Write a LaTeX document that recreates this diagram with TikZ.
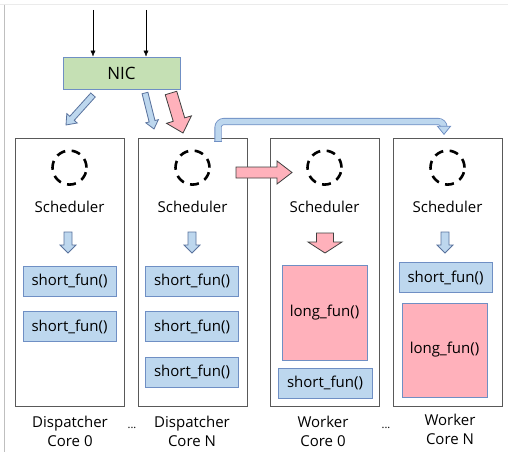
\documentclass[tikz,border=0pt]{standalone}
\usepackage{fontspec}
\setmainfont{Open Sans}
\usetikzlibrary{calc,arrows.meta}

\definecolor{nicgreen}{HTML}{C5E0B4}
\definecolor{funblue}{HTML}{BDD7EE}
\definecolor{lineblue}{HTML}{6F8FC4}
\definecolor{funred}{HTML}{FFB1BB}
\definecolor{coreline}{HTML}{595959}

% block arrow: [style]{tail}{tip}{shaft half width}{head half width}{head length}
\newcommand{\blockarrow}[6][]{%
  \coordinate (ba-h) at ($(#3)!#6!(#2)$);
  \draw[#1] ($(#2)!#4!90:(#3)$) -- ($(ba-h)!#4!90:(#3)$) -- ($(ba-h)!#5!90:(#3)$)
    -- (#3) -- ($(ba-h)!#5!-90:(#3)$) -- ($(ba-h)!#4!-90:(#3)$) -- ($(#2)!#4!-90:(#3)$) -- cycle;
}

\tikzset{
  core/.style={draw=coreline, line width=0.8pt, fill=white, minimum width=109pt, minimum height=268pt, inner sep=0pt},
  shortfun/.style={draw=lineblue, fill=funblue, line width=0.8pt, minimum width=93pt, minimum height=30pt, inner sep=0pt},
  longfun/.style={draw=lineblue, fill=funred, line width=0.8pt, minimum width=85pt, minimum height=95pt, inner sep=0pt},
  sched/.style={circle, draw=black, line width=2.6pt, dash pattern=on 9pt off 6.5pt, minimum size=34pt, inner sep=0pt},
  bluearrow/.style={draw=lineblue!80!black, fill=funblue, line width=0.8pt},
  redarrow/.style={draw=black!75, fill=funred, line width=0.8pt},
  caption/.style={align=center, font=\fontsize{15}{19}\selectfont},
}

\begin{document}
\begin{tikzpicture}[x=1pt, y=-1pt, every node/.append style={font=\fontsize{15}{18}\selectfont}]
\useasboundingbox (0,0) rectangle (508,452);

% faint frame of the screenshot
\draw[black!8, line width=0.8pt] (0,4) -- (508,4);
\draw[black!25, line width=0.8pt] (4,5) -- (4,452);

% NIC and its inputs
\node[draw=lineblue, fill=nicgreen, line width=0.8pt, minimum width=117pt, minimum height=32pt, font=\fontsize{17}{20}\selectfont] (nic) at (121.5,73) {NIC};
\coordinate (in0) at (93,10);
\coordinate (in1) at (146,10);
\draw[-{Latex[length=6pt,width=5pt]}] (in0) -- (in0 |- nic.north);
\draw[-{Latex[length=6pt,width=5pt]}] (in1) -- (in1 |- nic.north);

% cores
\node[core] (disp0) at (69.5,272) {};
\node[core] (dispN) at (192.5,272) {};
\node[core] (work0) at (324.5,272) {};
\node[core] (workN) at (447.5,272) {};

\foreach \c in {disp0,dispN,work0,workN} {
  \node[sched] (\c-sched) at ($(\c.north)+(0,30)$) {};
  \node (\c-label) at ($(\c.north)+(0,69)$) {Scheduler};
}

% functions
\node[shortfun] (d0f1) at (69.5,281) {short\_fun()};
\node[shortfun] (d0f2) at (69.5,326.5) {short\_fun()};

\node[shortfun] (dNf1) at (192,281) {short\_fun()};
\node[shortfun] (dNf2) at (192,326.5) {short\_fun()};
\node[shortfun] (dNf3) at (192,372) {short\_fun()};

\node[longfun] (w0f1) at (324.5,312.5) {long\_fun()};
\node[shortfun, minimum width=94pt] (w0f2) at (325,383) {short\_fun()};

\node[shortfun] (wNf1) at (445.5,277.5) {short\_fun()};
\node[longfun, minimum height=94pt] (wNf2) at (444.5,350) {long\_fun()};

% arrows from the schedulers
\coordinate (d0a) at (68,232);  \coordinate (d0b) at (68,253);
\coordinate (dNa) at (192,232); \coordinate (dNb) at (192,253);
\coordinate (wNa) at (445,232); \coordinate (wNb) at (445,253);
\coordinate (w0a) at (325,233); \coordinate (w0b) at (325,253);
\blockarrow[bluearrow]{d0a}{d0b}{4pt}{8pt}{8pt}
\blockarrow[bluearrow]{dNa}{dNb}{4pt}{8pt}{8pt}
\blockarrow[bluearrow]{wNa}{wNb}{4pt}{8pt}{8pt}
\blockarrow[redarrow]{w0a}{w0b}{8.5pt}{17pt}{11pt}

% arrows from the NIC
\coordinate (n0a) at (93,95);   \coordinate (n0b) at (66,125);
\coordinate (n1a) at (145,93);  \coordinate (n1b) at (154,129);
\coordinate (n2a) at (171,93);  \coordinate (n2b) at (183,133);
\blockarrow[bluearrow]{n0a}{n0b}{3pt}{7pt}{9pt}
\blockarrow[bluearrow]{n1a}{n1b}{3pt}{6.5pt}{8pt}
\blockarrow[redarrow]{n2a}{n2b}{6pt}{13pt}{14pt}

% dispatcher N hands work to the workers
\coordinate (hA) at (236,172.5); \coordinate (hB) at (292,172.5);
\blockarrow[redarrow]{hA}{hB}{5.5pt}{11.5pt}{15pt}

\coordinate (e0) at ($(dispN.north)+(25.5,4)$);
\coordinate (e1) at ($(workN-sched.north)+(-3.5,-23)$);
\draw[draw=lineblue, double=funblue, double distance=5.5pt, line width=0.8pt, rounded corners=6pt]
  (e0) -- (e0 |- 0,121.5) -- (e1 |- 0,121.5) -- (e1);
\draw[draw=lineblue, line width=0.8pt] ($(e0)+(-3.55,0)$) -- ($(e0)+(3.55,0)$);
\draw[bluearrow, draw=lineblue, line join=miter] ($(e1)+(-6.5,0)$) -- ($(e1)+(6.5,0)$) -- ($(e1)+(0,8)$) -- cycle;

% captions
\node[caption] (cap0) at (70,431.5) {Dispatcher\\Core 0};
\node[caption] (cap1) at (192,431.5) {Dispatcher\\Core N};
\node[caption] (cap2) at (323,431.5) {Worker\\Core 0};
\node[caption] (cap3) at (450,429) {Worker\\Core N};
\node[font=\fontsize{11}{11}\selectfont] (dots0) at (132,428) {...};
\node[font=\fontsize{11}{11}\selectfont] (dots1) at (386,428) {...};

\end{tikzpicture}
\end{document}
